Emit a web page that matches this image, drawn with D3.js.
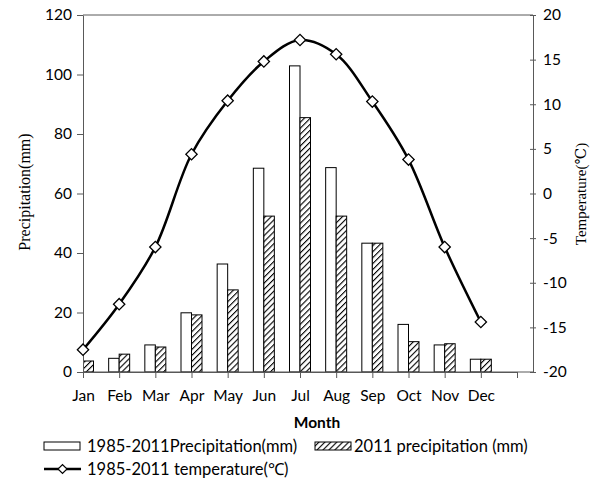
<!DOCTYPE html>
<html>
<head>
<meta charset="utf-8">
<script src="https://cdn.jsdelivr.net/npm/d3@7"></script>
<style>
body{margin:0;background:#fff;}
text{font-family:Lato,"Open Sans",sans-serif;fill:#000;}
.serif{font-family:"Liberation Serif","DejaVu Serif",serif;}
</style>
</head>
<body>
<svg id="chart" width="599" height="482"></svg>
<script>
var months = ["Jan","Feb","Mar","Apr","May","Jun","Jul","Aug","Sep","Oct","Nov","Dec"];
var precipAvg = [3.0, 4.6, 9.1, 19.9, 36.3, 68.5, 102.9, 68.7, 43.3, 16.0, 9.1, 4.3];
var precip2011 = [3.7, 6.0, 8.4, 19.2, 27.6, 52.4, 85.5, 52.4, 43.3, 10.2, 9.5, 4.3];
var tempAvg = [-17.5, -12.4, -6.0, 4.4, 10.4, 14.8, 17.2, 15.6, 10.3, 3.8, -6.0, -14.4];
var precipTicks = [0,20,40,60,80,100,120];
var tempTicks = [-20,-15,-10,-5,0,5,10,15,20];

var svg = d3.select('#chart');
var plotLeft = 83, plotRight = 533, plotTop = 15, plotBottom = 372;
var axisColor = '#595959';

// month index -> x, ticks sit on the category points
var x = d3.scaleLinear().domain([0, 12]).range([plotLeft, 517]);
var yP = d3.scaleLinear().domain([0, 120]).range([plotBottom, plotTop]);
var yT = d3.scaleLinear().domain([-20, 20]).range([plotBottom, plotTop]);
var barW = 10.5;

var defs = svg.append('defs');
var pat = defs.append('pattern')
	.attr('id', 'hatch')
	.attr('patternUnits', 'userSpaceOnUse')
	.attr('width', 4.2).attr('height', 4.2)
	.attr('patternTransform', 'rotate(45)');
pat.append('rect').attr('width', 4.2).attr('height', 4.2).attr('fill', '#fff');
pat.append('line').attr('x1', 0).attr('y1', 0).attr('x2', 0).attr('y2', 4.2)
	.attr('stroke', '#000').attr('stroke-width', 2.2);
defs.append('clipPath').attr('id', 'plotClip')
	.append('rect').attr('x', plotLeft).attr('y', plotTop)
	.attr('width', plotRight-plotLeft).attr('height', plotBottom-plotTop);

var plot = svg.append('g').attr('clip-path', 'url(#plotClip)');

plot.selectAll('rect.avg')
	.data(precipAvg).enter()
	.append('rect')
	.attr('class', 'avg')
	.attr('x', function(d,i){ return x(i) - barW; })
	.attr('y', function(d){ return yP(d); })
	.attr('width', barW)
	.attr('height', function(d){ return plotBottom - yP(d); })
	.attr('fill', '#fff')
	.attr('stroke', '#000')
	.attr('stroke-width', 1);

plot.selectAll('rect.y2011')
	.data(precip2011).enter()
	.append('rect')
	.attr('class', 'y2011')
	.attr('x', function(d,i){ return x(i); })
	.attr('y', function(d){ return yP(d); })
	.attr('width', barW)
	.attr('height', function(d){ return plotBottom - yP(d); })
	.attr('fill', 'url(#hatch)')
	.attr('stroke', '#000')
	.attr('stroke-width', 1);

// frame
svg.append('line').attr('x1', plotLeft).attr('x2', plotRight).attr('y1', plotTop).attr('y2', plotTop)
	.attr('stroke', axisColor);

// left axis
var gL = svg.append('g').attr('transform', 'translate('+plotLeft+',0)')
	.call(d3.axisLeft(yP).tickValues(precipTicks).tickSize(6).tickPadding(5).tickSizeOuter(0));
// right axis
var gR = svg.append('g').attr('transform', 'translate('+plotRight+',0)')
	.call(d3.axisRight(yT).tickValues(tempTicks).tickSize(3).tickPadding(7).tickSizeOuter(0)
		.tickFormat(function(d){ return String(d); }));
gR.selectAll('.tick line').attr('x1', -3);
// bottom axis
var gB = svg.append('g').attr('transform', 'translate(0,'+plotBottom+')')
	.call(d3.axisBottom(x).tickValues(d3.range(13)).tickSize(6).tickPadding(12)
		.tickFormat(function(i){ return months[i] || ''; }).tickSizeOuter(0));
svg.append('line').attr('x1', plotLeft).attr('x2', plotRight).attr('y1', plotBottom).attr('y2', plotBottom)
	.attr('stroke', axisColor);

[gL, gR, gB].forEach(function(g){
	g.select('.domain').attr('stroke', axisColor);
	g.selectAll('.tick line').attr('stroke', axisColor);
	g.selectAll('.tick text').attr('font-family', 'Lato, sans-serif').attr('font-size', 15.5).attr('fill', '#000');
});

// temperature line
var line = d3.line()
	.x(function(d,i){ return x(i); })
	.y(function(d){ return yT(d); })
	.curve(d3.curveCatmullRom.alpha(0.5));
svg.append('path')
	.datum(tempAvg)
	.attr('d', line)
	.attr('fill', 'none')
	.attr('stroke', '#000')
	.attr('stroke-width', 2.5);

var diamond = d3.symbol().type(d3.symbolSquare).size(64);
svg.selectAll('path.marker')
	.data(tempAvg).enter()
	.append('path')
	.attr('class', 'marker')
	.attr('d', diamond)
	.attr('transform', function(d,i){ return 'translate('+x(i)+','+yT(d)+') rotate(45)'; })
	.attr('fill', '#fff')
	.attr('stroke', '#000')
	.attr('stroke-width', 1.3);

// axis titles
svg.append('text')
	.attr('class', 'serif')
	.attr('transform', 'translate(30,192) rotate(-90)')
	.attr('text-anchor', 'middle')
	.attr('font-size', 16)
	.text('Precipitation(mm)');
svg.append('text')
	.attr('class', 'serif')
	.attr('transform', 'translate(586,194) rotate(-90)')
	.attr('text-anchor', 'middle')
	.attr('font-size', 15)
	.text('Temperature(℃)');
svg.append('text')
	.attr('x', 317).attr('y', 428)
	.attr('text-anchor', 'middle')
	.attr('font-size', 15.5)
	.attr('font-weight', 'bold')
	.text('Month');

// legend
var leg = svg.append('g');
leg.append('rect').attr('x', 44).attr('y', 442).attr('width', 36).attr('height', 8)
	.attr('fill', '#fff').attr('stroke', '#000');
leg.append('text').attr('x', 87).attr('y', 452).attr('font-size', 16.5)
	.text('1985-2011Precipitation(mm)');
leg.append('rect').attr('x', 315).attr('y', 442).attr('width', 36).attr('height', 8)
	.attr('fill', 'url(#hatch)').attr('stroke', '#000');
leg.append('text').attr('x', 354).attr('y', 452).attr('font-size', 16.5)
	.text('2011 precipitation (mm)');
leg.append('line').attr('x1', 44).attr('x2', 81).attr('y1', 469).attr('y2', 469)
	.attr('stroke', '#000').attr('stroke-width', 2.5);
leg.append('path').attr('d', d3.symbol().type(d3.symbolSquare).size(40))
	.attr('transform', 'translate(62.5,469) rotate(45)')
	.attr('fill', '#fff').attr('stroke', '#000').attr('stroke-width', 1.2);
leg.append('text').attr('x', 87).attr('y', 475).attr('font-size', 16.5)
	.text('1985-2011 temperature(℃)');
</script>
</body>
</html>
